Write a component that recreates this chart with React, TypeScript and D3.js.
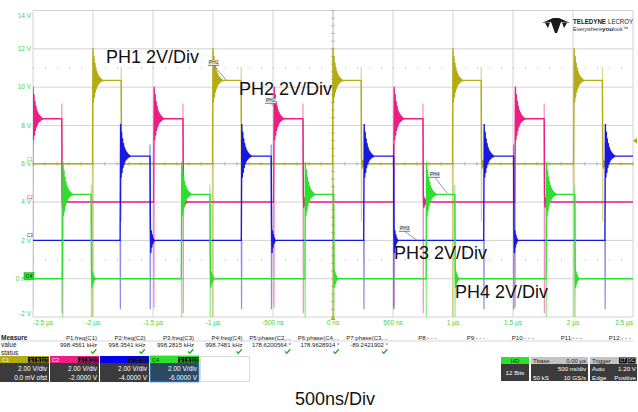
import React from "react";
import * as d3 from "d3";

// axis ticks
const timeTicks = [-2.5, -2, -1.5, -1, -0.5, 0, 0.5, 1, 1.5, 2, 2.5];
const timeTickLabels = ["-2.5 µs", "-2 µs", "-1.5 µs", "-1 µs", "-500 ns", "0 ns", "500 ns", "1 µs", "1.5 µs", "2 µs", "2.5 µs"];
const voltTicks = [14, 12, 10, 8, 6, 4, 2, 0, -2];
const voltTickLabels = ["14 V", "12 V", "10 V", "8 V", "6 V", "4 V", "2 V", "0 mV", "-2 V"];

// channels (screen volts, µs)
const channelNames = ["C1", "C2", "C3", "C4"];
const channelColors = ["#b3ac14", "#f01c86", "#1717e6", "#2edf2e"];
const channelBaselines = [6, 4, 2, 0];
const pulseHeights = [4.35, 4.35, 4.4, 4.4];
const pulseWidths = [0.235, 0.24, 0.245, 0.235];
const c1Rises = [-2.0, -1.0, 0.0, 1.0, 2.01];
const c2Rises = [-2.5, -1.49, -0.49, 0.51, 1.52];
const c3Rises = [-1.77, -0.76, 0.26, 1.26, 2.27];
const c4Rises = [-2.25, -1.26, -0.23, 0.78, 1.78];
const riseDips = [-8, -5.5, -3.6, -2.6];
const fallDips = [-3, -5.8, -3.6, -2.6];
const fallSpikes = [0.7, 0.8, 0.6, 0.5];
const fallRingScale = [0.5, 0.6, 1.4, 1.0];
// ringing, 4 ns per sample
const riseRinging = [1.65, -1.1, 1.25, -0.85, 0.9, -0.6, 0.65, -0.42, 0.45, -0.3, 0.32, -0.2, 0.22, -0.14, 0.15, -0.09, 0.09, -0.05, 0.05, -0.03, 0];
const fallRinging = [0.6, -0.45, 0.35, -0.25, 0.2, -0.12, 0.08, -0.04, 0];

// measurement table
const measureNames = ["P1:freq(C1)", "P2:freq(C2)", "P3:freq(C3)", "P4:freq(C4)", "P5:phase(C2,...", "P6:phase(C4,...", "P7:phase(C3,...", "P8:- - -", "P9:- - -", "P10:- - -", "P11:- - -", "P12:- - -"];
const measureValues = ["998.4561 kHz", "998.3541 kHz", "998.2815 kHz", "998.7481 kHz", "178.6200564 °", "178.9628914 °", "-89.2421902 °", "", "", "", "", ""];
const measureOk = [true, true, true, true, true, true, true, false, false, false, false, false];
const channelScales = ["2.00 V/div", "2.00 V/div", "2.00 V/div", "2.00 V/div"];
const channelOffsets = ["0.0 mV ofst", "-2.0000 V", "-4.0000 V", "-6.0000 V"];

const annotations = ["PH1 2V/Div", "PH2 2V/Div", "PH3 2V/Div", "PH4 2V/Div"];

type Pt = [number, number];

function buildTrace(i: number, rises: number[]) {
  const base = channelBaselines[i];
  const high = base + pulseHeights[i];
  const main: Pt[] = [[-2.7, base]];
  const faint: Pt[][] = [];
  rises.forEach((r) => {
    const f = r + pulseWidths[i];
    main.push([r - 0.004, base]);
    faint.push([[r - 0.004, base], [r - 0.002, base + riseDips[i]], [r, base]]);
    riseRinging.forEach((d, k) => main.push([r + k * 0.004, high + d]));
    main.push([f, high]);
    faint.push([[f, high + fallSpikes[i]], [f + 0.002, base + fallDips[i]], [f + 0.004, base]]);
    fallRinging.forEach((d, k) => main.push([f + 0.003 + k * 0.004, base + d * fallRingScale[i]]));
  });
  main.push([2.7, base]);
  return { main, faint };
}

export default function App() {
  const x = d3.scaleLinear().domain([-2.5, 2.5]).range([33, 633]);
  const y = d3.scaleLinear().domain([-2, 14]).range([317, 10.5]);
  const line = d3.line<Pt>().x((d) => x(d[0])).y((d) => y(d[1]));
  const traces = [c1Rises, c2Rises, c3Rises, c4Rises].map((r, i) => buildTrace(i, r));
  const minorX = d3.range(-2.5, 2.5001, 0.1);
  const minorY = d3.range(-2, 14.001, 0.4);
  const font = "Liberation Sans, Arial, sans-serif";
  const green = "#45d245";
  const colRight = (i: number) => 97 + i * 48.5;

  const annoPos = [[106, 63], [239, 95], [394, 259], [455, 298]];
  const tags = [
    { t: "PH1", x: 209, y: 65, x2: 226, y2: 80 },
    { t: "PH2", x: 266, y: 103, x2: 277, y2: 109 },
    { t: "PH3", x: 400, y: 231, x2: 418, y2: 241 },
    { t: "PH4", x: 430, y: 177, x2: 447, y2: 193 },
  ];

  return (
    <svg width={638} height={412} style={{ position: "absolute", left: 0, top: 0, background: "#fff" }} fontFamily={font}>
      <defs>
        <clipPath id="plot">
          <rect x={33} y={10.5} width={600} height={306.5} />
        </clipPath>
      </defs>

      {/* grid */}
      {timeTicks.map((t) => (
        <line key={"gx" + t} x1={x(t)} x2={x(t)} y1={y(14)} y2={y(-2)} stroke={t === 0 ? "#b9b9b9" : "#d2d2d2"} strokeWidth={1} />
      ))}
      {voltTicks.map((v) => (
        <line key={"gy" + v} x1={x(-2.5)} x2={x(2.5)} y1={y(v)} y2={y(v)} stroke={v === 6 ? "#b9b9b9" : "#d2d2d2"} strokeWidth={1} />
      ))}
      {minorX.map((t, k) => (
        <line key={"mx" + k} x1={x(t)} x2={x(t)} y1={y(6) - 2} y2={y(6) + 2} stroke="#a8a8a8" strokeWidth={0.8} />
      ))}
      {minorY.map((v, k) => (
        <line key={"my" + k} x1={x(0) - 2} x2={x(0) + 2} y1={y(v)} y2={y(v)} stroke="#a8a8a8" strokeWidth={0.8} />
      ))}
      {[11, 1].map((v) => (
        <line key={"dot" + v} x1={x(-2.5)} x2={x(2.5)} y1={y(v)} y2={y(v)} stroke="#b0b0b0" strokeWidth={1} strokeDasharray="1,11" />
      ))}

      {/* axis labels */}
      {voltTicks.map((v, k) => (
        <text key={"yl" + v} x={31} y={y(v) + (k === 0 ? 7 : k === voltTicks.length - 1 ? -1.5 : 2.3)} fontSize={6.5} fill={green} textAnchor="end">
          {voltTickLabels[k]}
        </text>
      ))}
      {timeTicks.map((t, k) => (
        <text key={"xl" + t} x={x(t)} y={325} fontSize={6.5} fill={green}
          textAnchor={k === 0 ? "start" : k === timeTicks.length - 1 ? "end" : "middle"}>
          {timeTickLabels[k]}
        </text>
      ))}
      {channelNames.slice(0, 3).map((c, i) => (
        <text key={"cm" + c} x={27} y={y(channelBaselines[i]) - 3.2} fontSize={4.5} fill={channelColors[i]}>{c}</text>
      ))}
      <rect x={24} y={y(0) - 6} width={10} height={7} fill="#2edf2e" stroke="#119911" strokeWidth={0.5} />
      <text x={25.5} y={y(0) - 0.8} fontSize={5.5} fill="#003300">C4</text>

      {/* traces */}
      <g clipPath="url(#plot)">
        {traces.map((tr, i) => (
          <g key={"tr" + i}>
            {tr.faint.map((seg, k) => (
              <path key={k} d={line(seg) || ""} fill="none" stroke={channelColors[i]} strokeOpacity={0.5} strokeWidth={1.2} />
            ))}
            <path d={line(tr.main) || ""} fill="none" stroke={channelColors[i]} strokeWidth={1.4} strokeLinejoin="round" />
          </g>
        ))}
      </g>

      {/* trigger markers */}
      <path d={`M${x(0)},${y(-2) - 1} l-2.5,4 l5,0 Z`} fill="#b3ac14" />
      <path d={`M633,${y(7.2)} l4,-3 l0,6 Z`} fill="#b3ac14" />

      {/* annotations */}
      {annotations.map((a, k) => (
        <text key={a} x={annoPos[k][0]} y={annoPos[k][1]} fontSize={18} fill="#111">{a}</text>
      ))}
      {tags.map((g) => (
        <g key={g.t}>
          <rect x={g.x - 1} y={g.y - 5} width={11} height={5.5} fill="#e4e4e4" />
          <text x={g.x} y={g.y - 1} fontSize={4.8} fill="#333">{g.t}</text>
          <line x1={g.x - 1} x2={g.x + 10} y1={g.y + 0.5} y2={g.y + 0.5} stroke="#555" strokeWidth={0.6} />
          <line x1={g.x + 5} x2={g.x2} y1={g.y + 0.5} y2={g.y2} stroke="#555" strokeWidth={0.6} />
        </g>
      ))}

      {/* logo */}
      <g transform="translate(542,18)" fill="#1a1a1a">
        <path d="M0,5 L11,0 L17,0 L28,5 L19,4 L15,15 L13,15 L9,4 Z" />
        <path d="M3,5 L8,4.5 L6,10 Z" />
        <path d="M25,5 L20,4.5 L22,10 Z" />
      </g>
      <text x={573} y={24} fontSize={7.5} fontWeight="bold" fill="#1a1a1a" textLength={33} lengthAdjust="spacingAndGlyphs">TELEDYNE</text>
      <text x={608} y={24} fontSize={7.5} fill="#1a1a1a" textLength={25} lengthAdjust="spacingAndGlyphs">LECROY</text>
      <text x={573} y={31} fontSize={6.2} fill="#333" textLength={29} lengthAdjust="spacingAndGlyphs">Everywhere</text>
      <text x={602} y={31} fontSize={6.2} fontWeight="bold" fill="#222" textLength={11} lengthAdjust="spacingAndGlyphs">you</text>
      <text x={613} y={31} fontSize={6.2} fill="#333" textLength={15} lengthAdjust="spacingAndGlyphs">look™</text>

      {/* measurement table */}
      <text x={1} y={339.5} fontSize={6.5} fontWeight="bold" fill="#222">Measure</text>
      <text x={1} y={347} fontSize={6.5} fill="#222">value</text>
      <text x={1} y={354.5} fontSize={6.5} fill="#222">status</text>
      <line x1={0} x2={633} y1={341} y2={341} stroke="#cccccc" strokeWidth={0.8} />
      {measureNames.map((m, k) => (
        <g key={m}>
          <text x={colRight(k)} y={339.5} fontSize={6} fill="#222" textAnchor="end">{m}</text>
          <text x={colRight(k)} y={347} fontSize={6} fill="#222" textAnchor="end">{measureValues[k]}</text>
          {measureOk[k] && (
            <path d={`M${colRight(k) - 6},${351.5} l1.8,1.8 l3.5,-4`} fill="none" stroke="#22b322" strokeWidth={1.4} />
          )}
        </g>
      ))}

      {/* channel boxes */}
      {channelNames.map((c, i) => {
        const bx = i * 50;
        return (
          <g key={"box" + c}>
            <rect x={bx} y={356} width={49} height={26} fill={i === 3 ? "#2d4863" : "#3b3b3b"} stroke={i === 3 ? "#3fa0ff" : "none"} strokeWidth={0.8} />
            <rect x={bx} y={356} width={49} height={7} fill={i === 2 ? "#0000ff" : channelColors[i]} />
            <text x={bx + 2} y={362} fontSize={5.5} fill={i === 3 ? "#003300" : i === 2 ? "#000066" : "#f4f4f4"}>{c}</text>
            {["E", "B", "DT"].map((b, k) => (
              <g key={b}>
                <rect x={bx + 28 + k * 7} y={357} width={6.5} height={5.5} fill="#111" />
                <text x={bx + 31.25 + k * 7} y={361.6} fontSize={4.5} fill={channelColors[i]} textAnchor="middle">{b}</text>
              </g>
            ))}
            <text x={bx + 47} y={371} fontSize={6.5} fill="#fff" textAnchor="end">{channelScales[i]}</text>
            <text x={bx + 47} y={379.5} fontSize={6.5} fill="#fff" textAnchor="end">{channelOffsets[i]}</text>
          </g>
        );
      })}
      <rect x={200.5} y={356.5} width={49} height={25} fill="none" stroke="#999" strokeWidth={0.7} strokeDasharray="1,1" />

      {/* timebase / trigger boxes */}
      <rect x={501} y={357} width={28} height={24} fill="#3b3b3b" />
      <rect x={501} y={357} width={28} height={7} fill="#2ee02e" />
      <text x={515} y={362.6} fontSize={6} fill="#063306" textAnchor="middle">HD</text>
      <text x={515} y={374.5} fontSize={6.2} fill="#fff" textAnchor="middle">12 Bits</text>

      <rect x={531} y={357} width={57} height={24} fill="#3b3b3b" />
      <rect x={531} y={357} width={57} height={7} fill="#c4c4c4" />
      <text x={533} y={362.6} fontSize={6} fill="#222">Tbase</text>
      <text x={586} y={362.6} fontSize={6} fill="#222" textAnchor="end">0.00 µs</text>
      <text x={586} y={371} fontSize={6.2} fill="#fff" textAnchor="end">500 ns/div</text>
      <text x={533} y={379.5} fontSize={6.2} fill="#fff">50 kS</text>
      <text x={586} y={379.5} fontSize={6.2} fill="#fff" textAnchor="end">10 GS/s</text>

      <rect x={590} y={357} width={47} height={24} fill="#3b3b3b" />
      <rect x={590} y={357} width={47} height={7} fill="#c4c4c4" />
      <text x={592} y={362.6} fontSize={6} fill="#222">Trigger</text>
      {["CT", "DC"].map((b, k) => (
        <g key={b}>
          <rect x={619 + k * 8.5} y={357.5} width={8} height={6} fill="#111" />
          <text x={623 + k * 8.5} y={362.2} fontSize={4.5} fill="#ddd" textAnchor="middle">{b}</text>
        </g>
      ))}
      <text x={592} y={371} fontSize={6.2} fill="#fff">Auto</text>
      <text x={636} y={371} fontSize={6.2} fill="#fff" textAnchor="end">1.20 V</text>
      <text x={592} y={379.5} fontSize={6.2} fill="#fff">Edge</text>
      <text x={636} y={379.5} fontSize={6.2} fill="#fff" textAnchor="end">Positive</text>

      <text x={295} y={405} fontSize={18} fill="#111">500ns/Div</text>
    </svg>
  );
}
